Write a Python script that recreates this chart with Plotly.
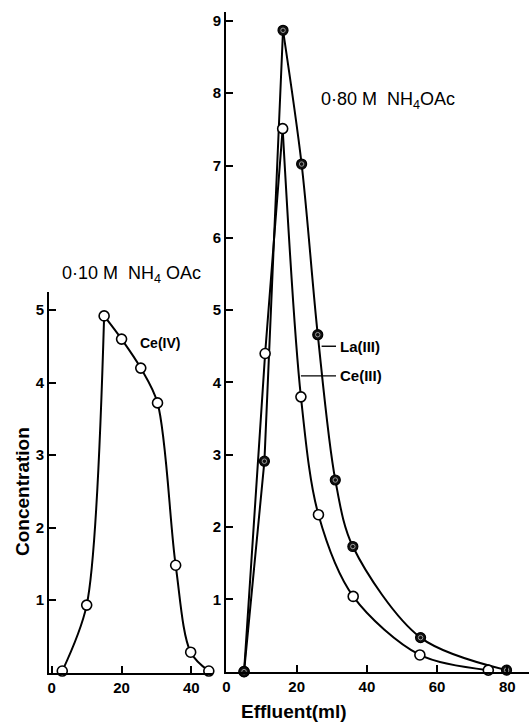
import plotly.graph_objects as go

# ---- data ----
ce4_x = [3, 10, 15, 20, 25.5, 30.3, 35.5, 39.8, 45]
ce4_y = [0.02, 0.93, 4.92, 4.6, 4.2, 3.72, 1.48, 0.28, 0.02]

la_x = [5, 10.8, 16.1, 21.4, 26, 31, 36, 55.3, 79.8]
la_y = [0.0, 2.91, 8.87, 7.02, 4.66, 2.65, 1.73, 0.47, 0.02]

ce3_x = [5, 11, 16, 21.2, 26.2, 36.1, 55.1, 74.6]
ce3_y = [0.0, 4.40, 7.51, 3.80, 2.17, 1.04, 0.23, 0.02]

left_xticks = [0, 20, 40]
right_xticks = [0, 20, 40, 60, 80]
left_yticks = [1, 2, 3, 4, 5]
right_yticks = [1, 2, 3, 4, 5, 6, 7, 8, 9]

FONT = "Liberation Sans"
W, H = 529, 722

fig = go.Figure()

def add_curve(xs, ys, peak, xa, ya, rise_shape):
    fig.add_trace(go.Scatter(x=xs[:peak + 1], y=ys[:peak + 1], mode="lines",
                             line=dict(color="black", width=2, shape=rise_shape, smoothing=0.8),
                             xaxis=xa, yaxis=ya, showlegend=False, hoverinfo="skip"))
    fig.add_trace(go.Scatter(x=xs[peak:], y=ys[peak:], mode="lines",
                             line=dict(color="black", width=2, shape="spline", smoothing=0.9),
                             xaxis=xa, yaxis=ya, showlegend=False, hoverinfo="skip"))

def open_markers(xs, ys, xa, ya):
    fig.add_trace(go.Scatter(x=xs, y=ys, mode="markers", cliponaxis=False,
                             marker=dict(symbol="circle", size=10, color="white",
                                         line=dict(color="black", width=1.6)),
                             xaxis=xa, yaxis=ya, showlegend=False, hoverinfo="skip"))

def dot_markers(xs, ys, xa, ya):
    fig.add_trace(go.Scatter(x=xs, y=ys, mode="markers", cliponaxis=False,
                             marker=dict(symbol="circle", size=10, color="#111111",
                                         line=dict(color="black", width=1.2)),
                             xaxis=xa, yaxis=ya, showlegend=False, hoverinfo="skip"))
    fig.add_trace(go.Scatter(x=xs, y=ys, mode="markers", cliponaxis=False,
                             marker=dict(symbol="circle-open", size=4.5, color="#9a9a9a",
                                         line=dict(color="#9a9a9a", width=1)),
                             xaxis=xa, yaxis=ya, showlegend=False, hoverinfo="skip"))

# Left panel: Ce(IV)
add_curve(ce4_x, ce4_y, 2, "x", "y", "spline")
open_markers(ce4_x, ce4_y, "x", "y")

# Right panel: La(III), Ce(III)
add_curve(la_x, la_y, 2, "x2", "y2", "linear")
add_curve(ce3_x, ce3_y, 2, "x2", "y2", "linear")
open_markers(ce3_x, ce3_y, "x2", "y2")
dot_markers(la_x, la_y, "x2", "y2")

axis_common = dict(showline=True, linecolor="black", linewidth=2, showgrid=False,
                   zeroline=False, ticks="inside", ticklen=7, tickwidth=1.5,
                   tickcolor="black",
                   tickfont=dict(family=FONT, size=15, color="black", weight="bold"))

fig.update_layout(
    width=W, height=H, margin=dict(l=0, r=0, t=0, b=0, autoexpand=False),
    paper_bgcolor="white", plot_bgcolor="white",
    xaxis=dict(domain=[49 / W, 213 / W], range=[-0.8, 46.2], anchor="y",
               tickvals=left_xticks, automargin=False, **axis_common),
    yaxis=dict(domain=[(H - 672.5) / H, (H - 292) / H], range=[0, 5.25], anchor="x",
               tickvals=left_yticks, automargin=False, **axis_common),
    xaxis2=dict(domain=[226 / W, 1.0], range=[-0.15, 86.2], anchor="y2",
                tickvals=right_xticks, automargin=False, **axis_common),
    yaxis2=dict(domain=[(H - 671.6) / H, (H - 11.5) / H], range=[0, 9.13], anchor="x2",
                tickvals=right_yticks, automargin=False, **axis_common),
)

# leader lines for series labels
fig.add_shape(type="line", xref="x2", yref="y2", x0=27.1, x1=31.2, y0=4.50, y1=4.50,
              line=dict(color="black", width=1.4))
fig.add_shape(type="line", xref="x2", yref="y2", x0=21.2, x1=31.2, y0=4.09, y1=4.09,
              line=dict(color="black", width=1.4))

txt = dict(family=FONT, color="black", weight="bold")
annotations = [
    dict(text="La(III)", x=31.7, y=4.50, xref="x2", yref="y2", xanchor="left",
         font=dict(size=15, **txt)),
    dict(text="Ce(III)", x=31.7, y=4.09, xref="x2", yref="y2", xanchor="left",
         font=dict(size=15, **txt)),
    dict(text="Ce(IV)", x=24.7, y=4.54, xref="x", yref="y", xanchor="left",
         font=dict(size=14, **txt)),
    dict(text="0·10 M  NH<sub>4</sub> OAc", x=131.7 / W, y=(H - 274) / H,
         xref="paper", yref="paper", font=dict(size=18, family=FONT, color="black")),
    dict(text="0·80 M  NH<sub>4</sub>OAc", x=388 / W, y=(H - 100) / H,
         xref="paper", yref="paper", font=dict(size=18, family=FONT, color="black")),
    dict(text="Concentration", x=23 / W, y=(H - 492) / H, xref="paper", yref="paper",
         textangle=-90, font=dict(size=19, **txt)),
    dict(text="Effluent(ml)", x=293.5 / W, y=(H - 711) / H, xref="paper", yref="paper",
         font=dict(size=19, **txt)),
]
for a in annotations:
    a.setdefault("showarrow", False)
    a.setdefault("xanchor", "center")
    a.setdefault("yanchor", "middle")
    fig.add_annotation(**a)

fig.write_html("out.html", config={"displayModeBar": False},
               post_script="document.body.style.margin='0';document.body.style.overflow='hidden';")
